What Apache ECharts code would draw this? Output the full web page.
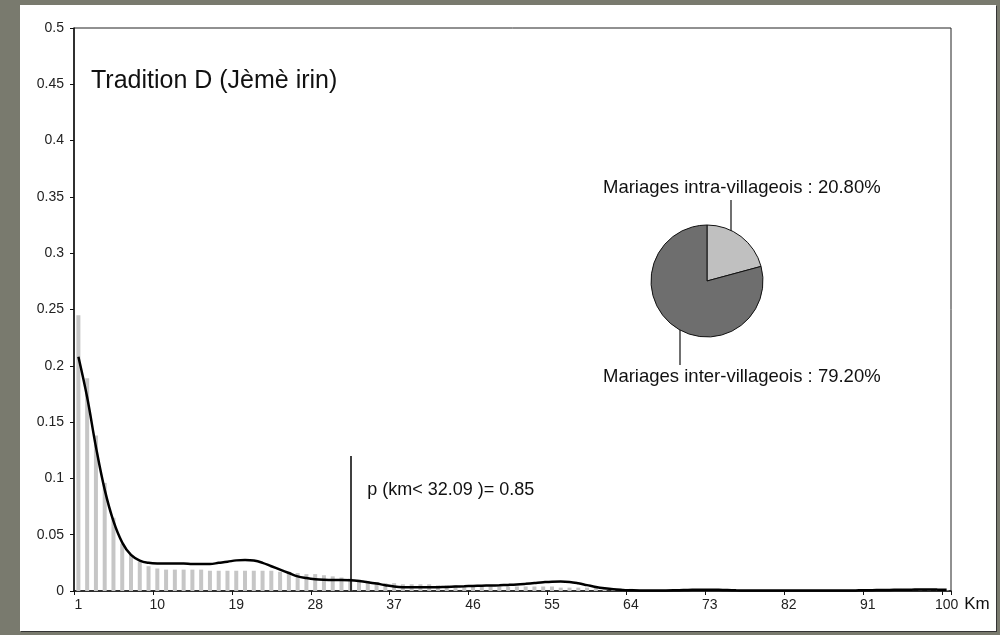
<!DOCTYPE html>
<html>
<head>
<meta charset="utf-8">
<script src="https://cdn.jsdelivr.net/npm/echarts@6/dist/echarts.min.js"></script>
<style>
  html, body { margin: 0; padding: 0; width: 1000px; height: 635px; background: #797a6e; overflow: hidden; }
  #panel { position: absolute; left: 20px; top: 5px; width: 976px; height: 626px; background: #fff; box-shadow: 1px 1px 0 #333; }
  #chart { position: absolute; left: 0; top: 0; width: 1000px; height: 635px; }
</style>
</head>
<body>
<div id="panel"></div>
<div id="chart"></div>
<script>
// Distances (km) 1..100
const categories = [];
for (let k = 1; k <= 100; k++) categories.push(String(k));

// Observed frequency (gray bars)
const barValues = [
  0.245, 0.189, 0.138, 0.096, 0.065, 0.042, 0.032, 0.026, 0.022, 0.020,
  0.019, 0.019, 0.019, 0.019, 0.019, 0.018, 0.018, 0.018, 0.018, 0.018,
  0.018, 0.018, 0.018, 0.017, 0.017, 0.016, 0.015, 0.015, 0.014, 0.013,
  0.012, 0.011, 0.010, 0.009, 0.008, 0.007, 0.007, 0.006, 0.006, 0.006,
  0.006, 0.005, 0.005, 0.005, 0.004, 0.004, 0.004, 0.004, 0.004, 0.004,
  0.004, 0.004, 0.004, 0.004, 0.004, 0.003, 0.003, 0.003, 0.003, 0.003,
  0.002, 0.002, 0.002, 0.002, 0.0005, 0.0005, 0.0005, 0.0005, 0.0005, 0.0005,
  0.0005, 0.0005, 0.0005, 0.0005, 0.0005, 0.0005, 0.0005, 0.0005, 0.0005, 0.0005,
  0.0005, 0.0005, 0.0005, 0.0005, 0.0005, 0.0005, 0.0005, 0.0005, 0.0005, 0.0005,
  0.0005, 0.0005, 0.0005, 0.0005, 0.0005, 0.0005, 0.0005, 0.0005, 0.0005, 0.0005
];

// Smoothed density (black curve)
const lineValues = [
  0.208, 0.172, 0.128, 0.090, 0.062, 0.043, 0.032, 0.027, 0.025, 0.0245,
  0.0245, 0.0245, 0.0245, 0.024, 0.024, 0.024, 0.025, 0.026, 0.0272, 0.0275,
  0.027, 0.025, 0.022, 0.019, 0.016, 0.013, 0.0115, 0.0105, 0.0100, 0.0098,
  0.0098, 0.0095, 0.0088, 0.0078, 0.0066, 0.0052, 0.0040, 0.0034, 0.0033, 0.0033,
  0.0033, 0.0034, 0.0036, 0.0039, 0.0042, 0.0045, 0.0047, 0.0049, 0.0051, 0.0054,
  0.0058, 0.0064, 0.0071, 0.0078, 0.0083, 0.0084, 0.0080, 0.0068, 0.0052, 0.0036,
  0.0024, 0.0015, 0.0010, 0.0007, 0.0005, 0.0005, 0.0005, 0.0005, 0.0006, 0.0008,
  0.0010, 0.0011, 0.0011, 0.0010, 0.0008, 0.0006, 0.0005, 0.0004, 0.0004, 0.0004,
  0.0004, 0.0004, 0.0004, 0.0004, 0.0004, 0.0004, 0.0004, 0.0005, 0.0005, 0.0006,
  0.0007, 0.0008, 0.0009, 0.0010, 0.0011, 0.0012, 0.0013, 0.0013, 0.0012, 0.0010
];

// Y axis
const yMin = 0, yMax = 0.5, yInterval = 0.05;

// Pie: share of marriages
const pieNames = ['Mariages intra-villageois', 'Mariages inter-villageois'];
const pieValues = [20.80, 79.20];
const pieColors = ['#c0c0c0', '#6e6e6e'];

// Annotation
const thresholdKm = '32';
const thresholdLabel = 'p (km< 32.09 )= 0.85';
const thresholdHeight = 0.12;

const titleText = 'Tradition D (Jèmè irin)';
const FONT = '"Liberation Sans", Arial, sans-serif';

const chart = echarts.init(document.getElementById('chart'), null, { renderer: 'canvas' });

const option = {
  backgroundColor: 'transparent',
  animation: false,
  textStyle: { fontFamily: FONT },
  title: {
    text: titleText,
    left: 86, top: 64,
    textStyle: { fontSize: 25, fontWeight: 'normal', color: '#111', fontFamily: FONT }
  },
  grid: {
    left: 74, top: 28, right: 49, bottom: 44,
    show: true, borderColor: '#222', borderWidth: 1, backgroundColor: 'transparent'
  },
  xAxis: {
    type: 'category',
    data: categories,
    boundaryGap: true,
    name: 'Km',
    nameLocation: 'end',
    nameGap: 3,
    nameTextStyle: { fontSize: 17, color: '#111', verticalAlign: 'top', padding: [5, 0, 0, 0] },
    axisLine: { lineStyle: { color: '#111', width: 1.5 } },
    axisTick: { show: true, interval: 8, alignWithLabel: false, length: 4, lineStyle: { color: '#111' } },
    axisLabel: { interval: 8, color: '#222', fontSize: 14, margin: 7 },
    splitLine: { show: false }
  },
  yAxis: {
    type: 'value',
    min: yMin, max: yMax, interval: yInterval,
    axisLine: { show: true, lineStyle: { color: '#111', width: 1.5 } },
    axisTick: { show: true, length: 4, lineStyle: { color: '#111' } },
    axisLabel: { color: '#222', fontSize: 14, margin: 10 },
    splitLine: { show: false }
  },
  series: [
    {
      type: 'bar',
      data: barValues,
      barWidth: 4,
      itemStyle: { color: '#c6c6c6' },
      markLine: {
        silent: true,
        symbol: ['none', 'none'],
        lineStyle: { color: '#000', width: 1.5, type: 'solid' },
        label: { show: false },
        data: [[{ coord: [thresholdKm, 0] }, { coord: [thresholdKm, thresholdHeight] }]]
      }
    },
    {
      type: 'line',
      data: lineValues,
      smooth: 0.4,
      symbol: 'none',
      lineStyle: { color: '#000', width: 2.5 },
      z: 3
    },
    {
      type: 'pie',
      center: [707, 281],
      radius: 56,
      startAngle: 90,
      clockwise: true,
      label: { show: false },
      labelLine: { show: false },
      itemStyle: { borderColor: '#111', borderWidth: 1 },
      data: pieNames.map((n, i) => ({ name: n, value: pieValues[i], itemStyle: { color: pieColors[i] } }))
    }
  ]
};

chart.setOption(option);

// Annotation text next to the threshold line
const lineTopPx = chart.convertToPixel({ xAxisIndex: 0, yAxisIndex: 0 }, [thresholdKm, thresholdHeight]);
const fmt = v => v.toFixed(2) + '%';
chart.setOption({
  graphic: [
    {
      type: 'text', left: lineTopPx[0] + 17, top: lineTopPx[1] + 25,
      style: { text: thresholdLabel, fill: '#111', font: '18px ' + FONT }
    },
    {
      type: 'text', left: 603, top: 178,
      style: { text: pieNames[0] + ' : ' + fmt(pieValues[0]), fill: '#111', font: '18.5px ' + FONT }
    },
    {
      type: 'line', shape: { x1: 731, y1: 200, x2: 731, y2: 240 },
      style: { stroke: '#111', lineWidth: 1.2 }
    },
    {
      type: 'text', left: 603, top: 367,
      style: { text: pieNames[1] + ' : ' + fmt(pieValues[1]), fill: '#111', font: '18.5px ' + FONT }
    },
    {
      type: 'line', shape: { x1: 680, y1: 320, x2: 680, y2: 365 },
      style: { stroke: '#111', lineWidth: 1.2 }
    }
  ]
});
</script>
</body>
</html>
